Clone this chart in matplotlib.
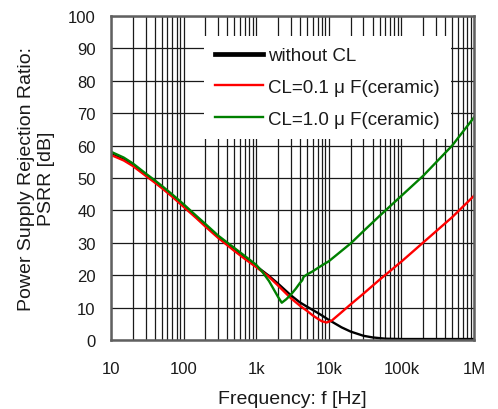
import matplotlib
matplotlib.use("Agg")
import matplotlib.pyplot as plt
from matplotlib.ticker import FixedLocator, LogLocator, NullFormatter

plt.rcParams['font.family'] = ['Liberation Sans', 'Noto Sans CJK JP', 'DejaVu Sans']

# ---- data ----
f_black = [10, 15, 20, 30, 40, 50, 70, 100, 150, 200, 300, 500, 700, 1000, 1500, 2000,
           3000, 4000, 5000, 7000, 8000, 10000, 15000, 20000, 30000, 40000, 60000, 100000, 1000000]
db_black = [57.4, 55.7, 54.0, 51.0, 48.9, 47.2, 44.5, 41.4, 37.9, 35.3, 31.8, 27.8, 25.3, 22.8, 19.8, 17.4,
            13.8, 11.6, 10.3, 8.4, 7.6, 6.2, 3.9, 2.6, 1.3, 0.8, 0.4, 0.3, 0.3]

f_red = [10, 15, 20, 30, 40, 50, 70, 100, 150, 200, 300, 500, 700, 1000, 1500, 2000,
         3000, 4000, 5000, 6000, 7000, 8000, 9300, 11000, 14000, 20000, 30000, 50000,
         100000, 200000, 500000, 1000000]
db_red = [57.1, 55.4, 53.7, 50.7, 48.6, 46.9, 44.2, 41.1, 37.6, 35.0, 31.5, 27.5, 25.0, 22.5, 19.5, 16.8,
          12.9, 10.6, 9.0, 7.6, 6.6, 5.8, 5.4, 6.0, 8.0, 11.0, 14.3, 18.6,
          24.2, 30.1, 37.9, 44.5]

f_green = [10, 15, 20, 30, 40, 50, 70, 100, 150, 200, 300, 500, 700, 1000, 1200, 1500, 2000,
           2250, 2600, 3000, 3500, 4000, 4300, 4500, 5000, 6000, 8000, 10000, 20000, 30000,
           50000, 100000, 200000, 500000, 1000000]
db_green = [58.1, 56.3, 54.5, 51.4, 49.3, 47.6, 44.9, 41.9, 38.3, 35.8, 32.2, 28.4, 25.9, 23.2, 21.2, 18.2, 13.3,
            11.5, 12.6, 14.0, 15.8, 17.6, 18.4, 19.5, 20.2, 21.2, 23.0, 24.3, 29.8, 33.6,
            38.3, 44.5, 50.7, 60.0, 68.7]

labels = ["without CL", "CL=0.1 μ F(ceramic)", "CL=1.0 μ F(ceramic)"]
x_ticks = [10, 100, 1000, 10000, 100000, 1000000]
x_tick_labels = ["10", "100", "1k", "10k", "100k", "1M"]
y_ticks = list(range(0, 101, 10))

# ---- figure ----
fig = plt.figure(figsize=(4.98, 4.10), dpi=100)
ax = fig.add_axes([111/498, 1 - 341/410, (474-111)/498, (341-17)/410])

ax.plot(f_black, db_black, color='black', lw=1.7, label=labels[0], zorder=3)
ax.plot(f_red, db_red, color='#ff0000', lw=1.7, label=labels[1], zorder=4)
ax.plot(f_green, db_green, color='#008000', lw=1.7, label=labels[2], zorder=5)

ax.set_xscale('log')
ax.set_xlim(10, 1e6)
ax.set_ylim(0, 100)
ax.xaxis.set_major_locator(FixedLocator(x_ticks))
ax.set_xticklabels(x_tick_labels)
ax.xaxis.set_minor_locator(LogLocator(base=10, subs=range(2, 10), numticks=20))
ax.xaxis.set_minor_formatter(NullFormatter())
ax.set_yticks(y_ticks)

ax.grid(True, which='major', axis='both', color='#1a1a1a', lw=0.9)
ax.grid(True, which='minor', axis='x', color='#1a1a1a', lw=0.9)
ax.set_axisbelow(True)

ax.tick_params(axis='both', which='both', length=0, labelsize=12, colors='#1a1a1a')
ax.tick_params(axis='y', pad=11)
ax.tick_params(axis='x', pad=15)

for s in ax.spines.values():
    s.set_color('#606060')
    s.set_linewidth(1.8)
    s.set_zorder(6)

ax.set_xlabel("Frequency: f [Hz]", fontsize=14, color='#1a1a1a', labelpad=10)
ax.set_ylabel("Power Supply Rejection Ratio:\nPSRR [dB]", fontsize=14, color='#1a1a1a', labelpad=9,
              linespacing=1.25)

leg = ax.legend(loc='upper left', bbox_to_anchor=(0.256, 0.938), frameon=True, fancybox=False,
                edgecolor='none', facecolor='white', framealpha=1.0, fontsize=13.5,
                handlelength=2.56, handletextpad=0.27, labelspacing=0.77, borderpad=0.6,
                borderaxespad=0)
leg.set_zorder(7)
leg.get_lines()[0].set_linewidth(3.4)
for t in leg.get_texts():
    t.set_color('#1a1a1a')

fig.savefig("out.png", dpi=100)
